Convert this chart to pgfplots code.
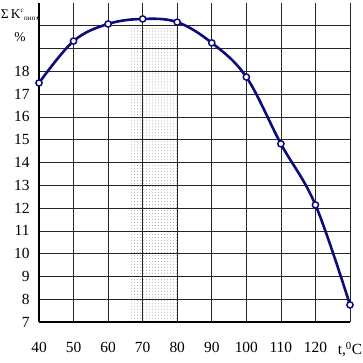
\documentclass[border=0pt]{standalone}
\usepackage{pgfplots}
\pgfplotsset{compat=1.18}
\usetikzlibrary{patterns}
\usepackage{fontspec}
\setmainfont{Liberation Serif}
\definecolor{navy}{RGB}{12,12,125}
\begin{document}
\begin{tikzpicture}
\begin{axis}[
 set layers,
 scale only axis, width=311bp, height=319bp,
 xmin=40,xmax=130,ymin=7,ymax=21,
 axis x line=bottom, axis y line=left,
 axis line style={-, line width=1.7bp, black},
 xtick={40,50,...,130},
 xticklabels={40,50,60,70,80,90,100,110,120,{t,\textsuperscript{0}C}},
 ytick={7,...,20},
 yticklabels={7,8,9,10,11,12,13,14,15,16,17,18,{},{}},
 major tick length=0pt,
 grid=major, grid style={black!85, line width=0.7bp},
 tick label style={font=\fontsize{15.5}{17}\selectfont},
 xticklabel style={yshift=-17bp},
 yticklabel style={xshift=-6bp},
 /pgf/number format/assume math mode=true,
 clip=false,
]
\addplot[draw=none, pattern=dots, pattern color=gray!70, on layer=axis background] coordinates {(66.5,20)(80,20)} \closedcycle;
\addplot[navy, line width=2.6bp, smooth, tension=0.6, mark=*, mark options={fill=white, draw=navy, line width=1.5bp}, mark size=3.1bp] coordinates {
(40,17.49)(50,19.33)(60,20.08)(70,20.3)(80,20.16)(90,19.25)(100,17.75)(110,14.82)(120,12.14)(130,7.75)};
\coordinate (SW) at (rel axis cs:0,0);
\coordinate (NE) at (rel axis cs:1,1);
\node[anchor=north, align=center, font=\fontsize{13.5}{24}\selectfont, inner sep=0pt] at ([xshift=-19bp,yshift=-6bp]rel axis cs:0,1) {Σ\,K\textsuperscript{\scriptsize с}\textsubscript{\scriptsize пип},\\\%};
\end{axis}
\pgfresetboundingbox
\path[use as bounding box] ([xshift=-39bp,yshift=-41bp]SW) rectangle ([xshift=13bp,yshift=3bp]NE);
\end{tikzpicture}
\end{document}
